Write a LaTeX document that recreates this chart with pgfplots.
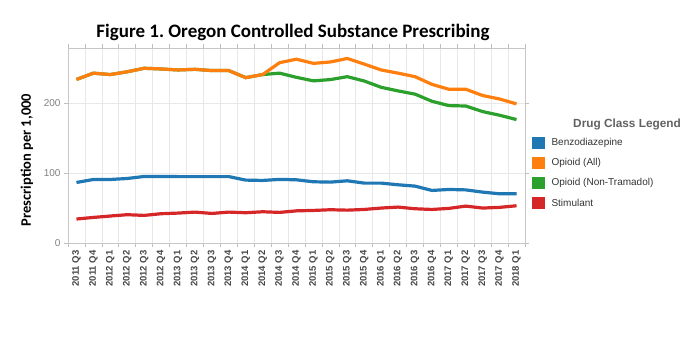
\documentclass[border=0pt]{standalone}
\usepackage{fontspec}
\setmainfont{Liberation Sans}
\newfontfamily\carlito{Carlito}
\usepackage{pgfplots}
\pgfplotsset{compat=1.18}
\usepackage{pgfplotstable}
\frenchspacing
\definecolor{tbblue}{HTML}{1F77B4}
\definecolor{tborange}{HTML}{FF7F0E}
\definecolor{tbgreen}{HTML}{2CA02C}
\definecolor{tbred}{HTML}{D62728}
\pgfplotstableread{
x benzo opiall opinon stim
0 86.6 234 234 34.3
1 90.9 243 243 36.6
2 90.9 241 241 38.6
3 92.3 245 245 40.5
4 95.2 250 250 39.5
5 95.2 249 249 41.9
6 95.0 247.6 247.6 42.8
7 95.0 248.5 248.5 44.2
8 95.0 246.7 246.7 42.3
9 95.0 246.7 246.7 44.2
10 90.0 236.6 236.6 43.3
11 89.5 241 241 44.7
12 91.0 258 243 43.8
13 90.4 263 237 46.0
14 87.6 257 232 46.6
15 87.1 259 233.8 47.6
16 89.0 264 238 47.0
17 85.7 256 231.8 48.0
18 85.7 247.6 222.8 50.0
19 83.3 243 217.6 51.4
20 81.4 238 213 49.0
21 75.2 227 202.8 48.0
22 76.6 220 196.6 49.5
23 76.0 220 196 52.8
24 72.8 211 188 50.0
25 70.4 206 182.8 51.0
26 70.4 199 176.6 53.3
}\datatable
\begin{document}
\begin{tikzpicture}
\useasboundingbox (0pt,0pt) rectangle (694pt,360pt);
\begin{axis}[
  at={(68pt,117pt)}, anchor=south west,
  scale only axis, width=457pt, height=195pt,
  xmin=-0.5, xmax=26.5, ymin=0, ymax=279,
  xtick={0,...,26},
  xticklabels={2011 Q3,2011 Q4,2012 Q1,2012 Q2,2012 Q3,2012 Q4,2013 Q1,2013 Q2,2013 Q3,2013 Q4,2014 Q1,2014 Q2,2014 Q3,2014 Q4,2015 Q1,2015 Q2,2015 Q3,2015 Q4,2016 Q1,2016 Q2,2016 Q3,2016 Q4,2017 Q1,2017 Q2,2017 Q3,2017 Q4,2018 Q1},
  major x tick style={draw=none},
  minor xtick={-0.5,0.5,...,26.5},
  xminorgrids=true,
  ytick={0,100,200},
  ymajorgrids=true,
  grid style={color=black!9, line width=0.6pt},
  minor grid style={color=black!9, line width=0.6pt},
  axis line style={color=black!22, line width=0.8pt},
  tick style={color=black!25, line width=0.6pt},
  tick align=outside,
  major tick length=4pt, minor tick length=4pt,
  x tick label style={rotate=90, anchor=east, font=\bfseries\fontsize{9.5}{10}\selectfont, text=black!72},
  y tick label style={font=\fontsize{10}{11}\selectfont, text=black!50},
  /pgf/number format/assume math mode=true,
  clip=false,
]
\addplot[tbblue, line width=3.2pt] table[x=x,y=benzo] {\datatable};
\addplot[tbgreen, line width=3.2pt] table[x=x,y=opinon] {\datatable};
\addplot[tbred, line width=3.2pt] table[x=x,y=stim] {\datatable};
\addplot[tborange, line width=3.2pt] table[x=x,y=opiall] {\datatable};
\end{axis}
\node[font=\carlito\bfseries\fontsize{19}{22}\selectfont] at (293pt,328pt) {Figure 1. Oregon Controlled Substance Prescribing};
\node[rotate=90, font=\carlito\bfseries\fontsize{14.5}{16}\selectfont] at (27pt,200pt) {Prescription per 1,000};
\node[font=\bfseries\fontsize{11.8}{13}\selectfont, text=black!62] at (627pt,236pt) {Drug Class Legend};
\fill[tbblue] (532pt,211.5pt) rectangle ++(12.7pt,12pt);
\fill[tborange] (532pt,191.5pt) rectangle ++(12.7pt,12pt);
\fill[tbgreen] (532pt,171.5pt) rectangle ++(12.7pt,12pt);
\fill[tbred] (532pt,151.5pt) rectangle ++(12.7pt,12pt);
\node[anchor=west, font=\fontsize{10}{12}\selectfont, text=black!80] at (548pt,217.5pt) {Benzodiazepine};
\node[anchor=west, font=\fontsize{10}{12}\selectfont, text=black!80] at (548pt,197.5pt) {Opioid (All)};
\node[anchor=west, font=\fontsize{10}{12}\selectfont, text=black!80] at (548pt,177.5pt) {Opioid (Non-Tramadol)};
\node[anchor=west, font=\fontsize{10}{12}\selectfont, text=black!80] at (548pt,157.5pt) {Stimulant};
\end{tikzpicture}
\end{document}
